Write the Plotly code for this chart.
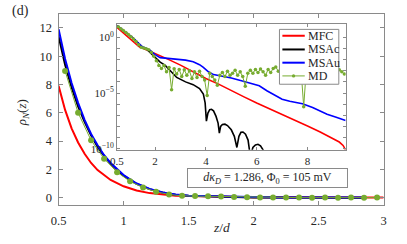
import plotly.graph_objects as go

# ---------------- data ----------------
# MFC (red)
mfc_z = [0.5, 0.55, 0.6, 0.65, 0.7, 0.75, 0.8, 0.9, 1.0, 1.1, 1.2, 1.3, 1.4, 1.5,
         1.75, 2.0, 2.5, 3.0, 3.5, 4.0, 4.5, 5.0, 5.5, 6.0, 6.5, 7.0, 7.5, 8.0,
         8.5, 9.0, 9.25, 9.4, 9.5]
mfc_rho = [7.9, 6.2, 4.9, 3.9, 3.1, 2.45, 1.95, 1.25, 0.8, 0.5, 0.32, 0.2, 0.13, 0.11,
           0.063, 0.035, 0.011, 3.2e-3, 8e-4, 2e-4, 6.3e-5, 1.6e-5, 4.5e-6, 1.26e-6,
           4e-7, 1.26e-7, 4e-8, 1.1e-8, 3.2e-9, 7.9e-10, 4e-10, 2e-10, 8e-11]

# MSAc (black)
msac_z = [0.5, 0.55, 0.6, 0.65, 0.7, 0.75, 0.8, 0.85, 0.9, 0.95, 1.0, 1.1, 1.2, 1.3,
          1.4, 1.5, 1.6, 1.7, 1.8, 1.9, 2.0, 2.2, 2.4, 2.6, 2.85, 3.2, 3.5, 3.75,
          3.9, 3.97, 4.02, 4.08, 4.15, 4.22, 4.3, 4.4, 4.48, 4.53, 4.58, 4.65, 4.75,
          4.85, 5.0, 5.12, 5.22, 5.3, 5.38, 5.46, 5.56, 5.66, 5.75, 5.85, 5.95, 6.05,
          6.15, 6.25, 6.35]
msac_rho = [11.4, 9.4, 7.8, 6.45, 5.35, 4.4, 3.6, 2.95, 2.4, 1.95, 1.55, 0.98, 0.6, 0.36,
            0.21, 0.13, 0.1, 0.075, 0.045, 0.025, 0.016, 6e-3, 3e-3, 1e-3, 2.5e-4,
            1e-4, 5.6e-5, 2.5e-5, 8e-6, 1.3e-6, 3e-8, 1.6e-7, 3.2e-7, 3.5e-7, 2.5e-7,
            8e-8, 2e-8, 2.5e-9, 1e-8, 1.5e-8, 1.6e-8, 1.2e-8, 5e-9, 1.3e-9, 1.3e-10,
            1.3e-9, 3e-9, 3.2e-9, 2e-9, 6e-10, 2e-11, 1.3e-10, 2.2e-10, 2.5e-10,
            1.8e-10, 8e-11, 2e-11]

# MSAu (blue)
msau_z = [0.5, 0.55, 0.6, 0.65, 0.7, 0.75, 0.8, 0.85, 0.9, 0.95, 1.0, 1.1, 1.2, 1.3,
          1.4, 1.5, 1.6, 1.7, 1.8, 1.9, 2.0, 2.2, 2.5, 2.85, 3.2, 3.5, 3.75, 3.9, 4.1,
          4.3, 4.65, 5.0, 5.4, 5.75, 6.1, 6.4, 6.7, 7.0, 7.3, 7.8, 8.2, 8.77, 9.1, 9.5]
msau_rho = [11.9, 9.8, 8.1, 6.7, 5.5, 4.5, 3.7, 3.0, 2.45, 2.0, 1.6, 1.0, 0.62, 0.37,
            0.22, 0.14, 0.115, 0.095, 0.07, 0.045, 0.028, 0.015, 0.0125, 0.011, 0.009,
            0.0063, 0.0035, 0.002, 8e-4, 4.5e-4, 3.2e-4, 2.2e-4, 1.26e-4, 8e-5, 4.5e-5,
            1.6e-5, 6.3e-6, 2.8e-6, 1.8e-6, 1.1e-6, 5e-7, 1.26e-7, 7e-8, 3.5e-8]

# MD (green), z = 0.55, 0.65, ..., 9.45
md_z = [round(0.55 + 0.1 * k, 2) for k in range(90)]
md_rho = [8.95, 6.0, 4.05, 2.75, 1.8, 1.15, 0.72, 0.42, 0.22, 0.13,
          0.11, 0.095, 0.075, 0.045, 0.02, 8e-3, 3e-3, 1.6e-3, 3e-3, 8e-4,
          2e-3, 2e-5, 1.5e-3, 5e-4, 1.3e-3, 3e-4, 1.2e-3, 4e-4, 1e-3, 2e-4,
          8e-4, 2.5e-4, 9e-4, 3e-4, 1.5e-4, 6e-6, 6e-4, 3e-4, 1.5e-4, 5e-5,
          4e-4, 7e-4, 3e-4, 9e-4, 4e-4, 6e-4, 1.1e-3, 4e-4, 8e-4, 3e-4,
          4e-5, 6e-4, 1.1e-3, 6e-4, 1.3e-3, 7e-4, 1.4e-3, 8e-4, 4e-4, 1.3e-3,
          7e-4, 1.6e-3, 2.2e-3, 9e-4, 1.6e-3, 5e-4, 1.3e-3, 2.2e-3, 1.1e-3, 1.8e-3,
          8e-4, 1.5e-3, 9e-4, 6e-7, 1.1e-3, 1.7e-3, 8e-4, 1.4e-3, 2e-3, 1e-3,
          1.5e-3, 7e-4, 1.3e-3, 1.9e-3, 9e-4, 1.4e-3, 6e-4, 1.2e-3, 8e-4, 5e-4]

main_xticks = [0.5, 1, 1.5, 2, 2.5, 3]
main_xticktext = ["0.5", "1", "1.5", "2", "2.5", "3"]
main_yticks = [0, 2, 4, 6, 8, 10, 12]
inset_xticks = [0.5, 2, 4, 6, 8]
inset_xticktext = ["0.5", "2", "4", "6", "8"]
inset_ydecades = list(range(0, -11, -1))
inset_ylabels = {0: "10<sup>0</sup>", -5: "10<sup>−5</sup>", -10: "10<sup>−10</sup>"}

RED, BLACK, BLUE, GREEN = "#ff0000", "#000000", "#0000ff", "#77ac30"
AXC = "#8a8a8a"
TXT = "#262626"
FONT = '"Liberation Serif", "DejaVu Serif", serif'

W, H = 407, 244
def px(x):
    return x / W
def py(y):
    return 1 - y / H

fig = go.Figure()

# ---- main axes ----
main_max = 3.0
def clip_main(zs, vs):
    pairs = [(z, v) for z, v in zip(zs, vs) if z <= main_max + 1e-9]
    return [p[0] for p in pairs], [p[1] for p in pairs]

for zs, vs, col in [(mfc_z, mfc_rho, RED), (msac_z, msac_rho, BLACK), (msau_z, msau_rho, BLUE)]:
    a, b = clip_main(zs, vs)
    fig.add_trace(go.Scatter(x=a, y=b, mode="lines", line=dict(color=col, width=2),
                             showlegend=False, hoverinfo="skip", xaxis="x", yaxis="y"))
a, b = clip_main(md_z, md_rho)
fig.add_trace(go.Scatter(x=a, y=b, mode="lines+markers", line=dict(color=GREEN, width=1),
                         marker=dict(color=GREEN, size=6), showlegend=False,
                         hoverinfo="skip", xaxis="x", yaxis="y"))

# ---- inset: white background ----
fig.add_trace(go.Scatter(x=[0.5, 9.5, 9.5, 0.5, 0.5], y=[1e-12, 1e-12, 1e3, 1e3, 1e-12],
                         mode="lines", fill="toself", fillcolor="white",
                         line=dict(width=0, color="white"), showlegend=False,
                         hoverinfo="skip", xaxis="x2", yaxis="y2"))
for zs, vs, col in [(mfc_z, mfc_rho, RED), (msac_z, msac_rho, BLACK), (msau_z, msau_rho, BLUE)]:
    fig.add_trace(go.Scatter(x=zs, y=vs, mode="lines", line=dict(color=col, width=1.6),
                             showlegend=False, hoverinfo="skip", xaxis="x2", yaxis="y2"))
fig.add_trace(go.Scatter(x=md_z, y=md_rho, mode="lines+markers",
                         line=dict(color=GREEN, width=1), marker=dict(color=GREEN, size=3.5),
                         showlegend=False, hoverinfo="skip", xaxis="x2", yaxis="y2"))

axis_common = dict(showline=True, linecolor=AXC, linewidth=1, mirror="allticks",
                   ticks="inside", tickcolor=AXC, showgrid=False, zeroline=False)
main_font = dict(family=FONT, size=12.5, color=TXT)
inset_font = dict(family=FONT, size=11, color=TXT)

fig.update_layout(
    width=W, height=H, margin=dict(l=0, r=0, t=0, b=0, pad=0),
    paper_bgcolor="white", plot_bgcolor="white",
    xaxis=dict(domain=[px(52), px(386)], range=[0.5, 3], tickvals=main_xticks,
               ticktext=main_xticktext, ticklen=4, anchor="y", tickfont=main_font,
               ticklabelstandoff=4, **axis_common),
    yaxis=dict(domain=[py(209), py(14)], range=[-0.5, 13], tickvals=main_yticks,
               ticklen=4, anchor="x", tickfont=main_font, ticklabelstandoff=3,
               **axis_common),
    xaxis2=dict(domain=[px(112), px(347)], range=[0.5, 9.5], tickvals=inset_xticks,
                ticktext=inset_xticktext, ticklen=3, anchor="y2", tickfont=inset_font,
                ticklabelstandoff=1, **axis_common),
    yaxis2=dict(domain=[py(153), py(25)], type="log", range=[-10.1, 1.15],
                tickvals=[10.0 ** d for d in inset_ydecades],
                ticktext=[inset_ylabels.get(d, "") for d in inset_ydecades],
                ticklen=3, anchor="x2", tickfont=inset_font, **axis_common),
)

ann = []
ann.append(dict(text="(d)", x=px(2), y=py(11), xref="paper", yref="paper",
                xanchor="left", yanchor="middle", showarrow=False,
                font=dict(family=FONT, size=14, color=TXT)))
ann.append(dict(text="<i>ρ<sub>N</sub></i>(<i>z</i>)", x=px(15), y=py(115), xref="paper",
                yref="paper", textangle=-90, xanchor="center", yanchor="middle",
                showarrow=False, font=dict(family=FONT, size=13, color=TXT)))
ann.append(dict(text="<i>z</i>/<i>d</i>", x=px(219), y=py(232), xref="paper", yref="paper",
                xanchor="center", yanchor="middle",
                showarrow=False, font=dict(family=FONT, size=13.5, color=TXT)))
ann.append(dict(text="<i>dκ<sub>D</sub></i> = 1.286, Φ<sub>0</sub> = 105 mV",
                x=px(266.5), y=py(182), xref="paper", yref="paper", showarrow=False,
                xanchor="center", yanchor="middle",
                bordercolor=AXC, borderwidth=1, bgcolor="white", borderpad=2,
                width=155, height=14,
                font=dict(family=FONT, size=12, color=TXT)))

# manual legend (compact, like the reference)
shapes = []
shapes.append(dict(type="rect", xref="paper", yref="paper", x0=px(279), x1=px(340),
                   y0=py(86), y1=py(30), line=dict(color=AXC, width=1),
                   fillcolor="white", layer="above"))
leg = [("MFC", RED, 36.5), ("MSAc", BLACK, 50.5), ("MSAu", BLUE, 64), ("MD", GREEN, 77.5)]
for name, col, yy in leg:
    shapes.append(dict(type="line", xref="paper", yref="paper", x0=px(282), x1=px(305),
                       y0=py(yy), y1=py(yy),
                       line=dict(color=col, width=1 if name == "MD" else 2), layer="above"))
    ann.append(dict(text=name, x=px(306.5), y=py(yy), xref="paper", yref="paper",
                    xanchor="left", yanchor="middle", showarrow=False,
                    font=dict(family=FONT, size=12, color=TXT)))
shapes.append(dict(type="circle", xref="paper", yref="paper", x0=px(291.8), x1=px(295.2),
                   y0=py(79.2), y1=py(75.8), fillcolor=GREEN, line=dict(color=GREEN, width=0),
                   layer="above"))

fig.update_layout(annotations=ann, shapes=shapes)
fig.write_html("out.html", config={"displayModeBar": False},
               post_script="document.body.style.margin='0px';")
